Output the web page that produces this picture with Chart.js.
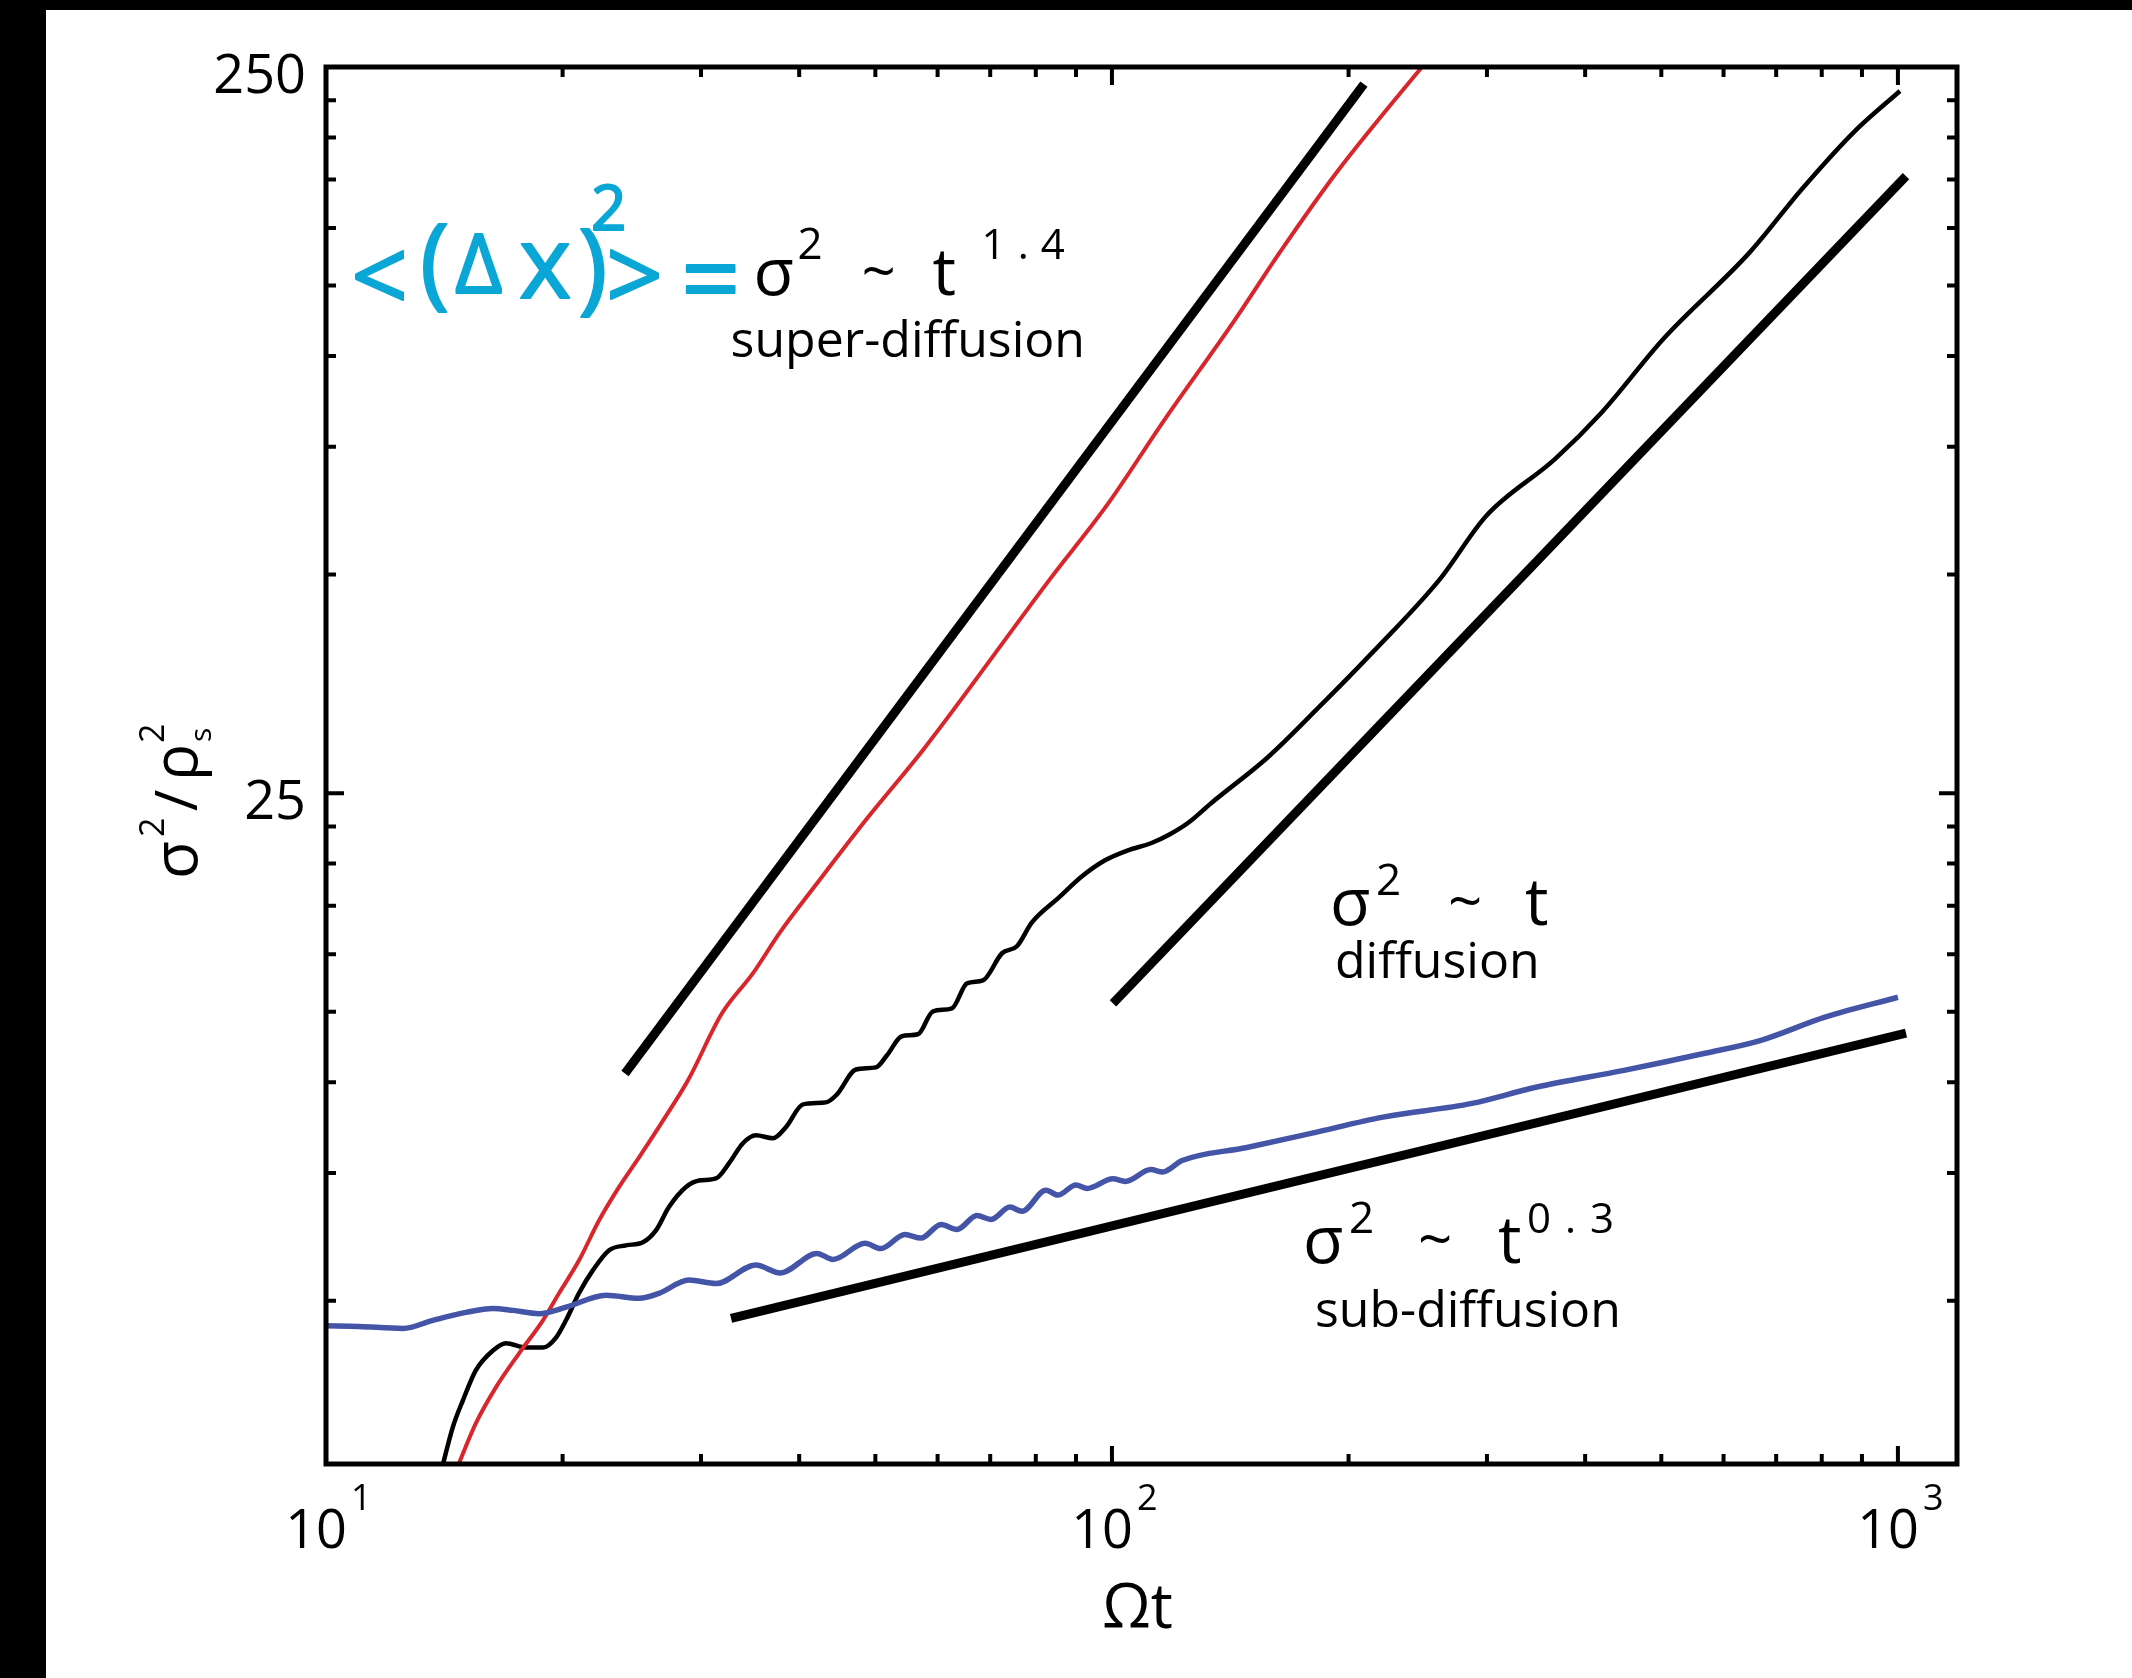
<!DOCTYPE html>
<html>
<head>
<meta charset="utf-8">
<title>sigma^2 vs Omega t</title>
<script src="https://cdn.jsdelivr.net/npm/chart.js"></script>
<style>
    html, body { margin: 0; padding: 0; background: #000; }
    body { width: 2132px; height: 1678px; overflow: hidden; position: relative; }
    .chart-box { position: absolute; left: 46px; top: 10px; width: 2086px; height: 1668px; background: #fff; }
</style>
</head>
<body>
<div class="chart-box"><canvas id="msdChart"></canvas></div>
<script>
    // black simulation curve (Omega t, sigma^2/rho_s^2)
    const blackT = [14.0, 14.5, 14.94, 15.51, 16.31, 16.94, 17.97, 18.88, 19.62, 20.2, 20.98, 21.86, 22.92, 24.08, 25.31,
        26.29, 27.31, 28.71, 29.83, 31.35, 32.56, 33.92, 35.24, 37.04, 38.47, 40.45, 43.26, 44.68, 47.24, 50.09,
        51.73, 54.05, 56.65, 59.2, 62.58, 65.4, 68.54, 72.46, 75.7, 79.1, 85.64, 91.6, 98.0, 104.8, 112.1,
        118.5, 125.3, 133.7, 157.9, 183.9, 213.5, 261.4, 299.1, 366.1, 419.0, 503.9, 648.2, 755.0, 879.0, 1006];
    const blackS = [2.9, 3.35, 3.65, 4.01, 4.27, 4.37, 4.31, 4.31, 4.45, 4.7, 5.12, 5.51, 5.87, 5.96, 6.02,
        6.25, 6.73, 7.17, 7.32, 7.37, 7.73, 8.24, 8.45, 8.37, 8.67, 9.32, 9.38, 9.62, 10.41, 10.48,
        10.89, 11.57, 11.64, 12.52, 12.64, 13.68, 13.81, 15.05, 15.39, 16.6, 17.97, 19.21, 20.21, 20.86, 21.33,
        21.95, 22.8, 24.22, 28.02, 32.94, 38.85, 49.29, 60.17, 72.11, 83.42, 105.8, 139.0, 169.8, 203.4, 231.7];

    // red curve
    const redT = [14.6, 15.51, 16.45, 17.6, 18.88, 19.79, 20.98, 22.25, 23.59, 25.02, 26.85, 28.88, 31.9, 34.94,
        37.81, 41.77, 48.93, 57.46, 83.4, 98.54, 116.8, 143.0, 163.6, 193.3, 261.4];
    const redS = [2.9, 3.39, 3.8, 4.23, 4.7, 5.12, 5.68, 6.45, 7.17, 7.88, 8.86, 10.06, 12.44, 14.13,
        16.08, 18.55, 23.16, 28.65, 49.29, 62.31, 81.86, 111.7, 139.0, 179.2, 268];

    // blue curve
    const blueT = [10, 11.01, 12.53, 13.68, 15.07, 16.31, 17.29, 18.66, 20.2, 22.72, 25.02, 26.53, 28.96, 31.35,
        35.24, 37.81, 42.14, 44.16, 48.5, 50.82, 54.52, 57.15, 60.6, 63.51, 67.33, 70.17, 74.17, 76.83, 82.42,
        85.35, 90.0, 93.0, 100.3, 104.0, 112.1, 116.0, 122.8, 148.5, 179.1, 221.2, 287.1, 346.2, 448.1, 568.2,
        669.6, 807.4, 1000];
    const blueS = [4.62, 4.61, 4.58, 4.7, 4.82, 4.88, 4.85, 4.8, 4.9, 5.09, 5.04, 5.12, 5.34, 5.28,
        5.6, 5.46, 5.81, 5.7, 6.0, 5.9, 6.17, 6.1, 6.37, 6.27, 6.55, 6.47, 6.73, 6.64, 7.1,
        6.99, 7.22, 7.14, 7.36, 7.3, 7.58, 7.52, 7.8, 8.13, 8.5, 8.95, 9.35, 9.84, 10.38, 10.96,
        11.42, 12.29, 13.09];

    // power-law guide lines (end points)
    const superT = [24.01, 209.2];
    const superS = [10.28, 236.8];
    const diffT = [100.3, 1024];
    const diffS = [12.84, 176.9];
    const subT = [32.76, 1024];
    const subS = [4.73, 11.68];

    // axes
    const xMajorTicks = [10, 100, 1000];
    const xTickExponents = ['1', '2', '3'];
    const xMinorTicks = [20, 30, 40, 50, 60, 70, 80, 90, 200, 300, 400, 500, 600, 700, 800, 900];
    const yMajorTicks = [25, 250];
    const yTickLabels = ['25', '250'];
    const yMinorTicks = [5, 7.5, 10, 12.5, 15, 17.5, 20, 22.5, 50, 75, 100, 125, 150, 175, 200, 225];

    const FONT = '"Open Sans", "Noto Sans", sans-serif';

    function pairs(xs, ys) {
        return xs.map((v, i) => ({ x: v, y: ys[i] }));
    }

    function curve(xs, ys, color, width) {
        return {
            data: pairs(xs, ys),
            borderColor: color,
            borderWidth: width,
            pointRadius: 0,
            fill: false,
            cubicInterpolationMode: 'monotone'
        };
    }

    function guide(xs, ys) {
        return {
            data: pairs(xs, ys),
            borderColor: '#000',
            borderWidth: 9,
            pointRadius: 0,
            fill: false,
            tension: 0
        };
    }

    // text labels: anchor in data space, pieces offset in px
    const notes = [
        { t: 35.0, s: 121.3, pieces: [['σ', 0, 0, 66], ['2', 44, -36, 44], ['~', 108, -2, 60], ['t', 179, 0, 66],
            ['1.4', 228, -36, 42, '12px'], ['super-diffusion', -23, 62, 50]] },
        { t: 189.4, s: 16.45, pieces: [['σ', 0, 0, 66], ['2', 46, -30, 44], ['~', 118, -2, 60], ['t', 195, 0, 66],
            ['diffusion', 5, 53, 50]] },
        { t: 175.0, s: 5.63, pieces: [['σ', 0, 0, 66], ['2', 46, -30, 44], ['~', 115, -2, 60], ['t', 195, 0, 66],
            ['0.3', 224, -30, 42, '14px'], ['sub-diffusion', 12, 64, 50]] }
    ];
    const handNote = { t: 10.76, s: 120.1, pieces: [['<', 0, 14, 100], ['(', 69, -2, 100], ['Δ', 104, -5, 82],
        ['x', 168, 0, 100], [')', 227, 3, 100], ['2', 240, -68, 62], ['>', 255, 13, 100], ['=', 330, 18, 104]] };

    function drawPieces(ctx, x0, y0, pieces, color, thicken) {
        pieces.forEach(p => {
            ctx.font = p[3] + 'px ' + FONT;
            ctx.letterSpacing = p[4] || '0px';
            ctx.fillStyle = color;
            ctx.fillText(p[0], x0 + p[1], y0 + p[2]);
            if (thicken) {
                ctx.strokeStyle = color;
                ctx.lineWidth = thicken;
                ctx.lineJoin = 'round';
                ctx.strokeText(p[0], x0 + p[1], y0 + p[2]);
            }
        });
        ctx.letterSpacing = '0px';
    }

    const axisFrame = {
        id: 'axisFrame',
        afterDatasetsDraw(chart) {
            const { ctx, chartArea: a, scales: { x, y } } = chart;
            ctx.save();

            // inward ticks on all four sides
            ctx.strokeStyle = '#000';
            ctx.lineWidth = 4;
            ctx.beginPath();
            const xt = (v, len) => {
                const px = x.getPixelForValue(v);
                ctx.moveTo(px, a.bottom); ctx.lineTo(px, a.bottom - len);
                ctx.moveTo(px, a.top); ctx.lineTo(px, a.top + len);
            };
            const yt = (v, len) => {
                const py = y.getPixelForValue(v);
                ctx.moveTo(a.left, py); ctx.lineTo(a.left + len, py);
                ctx.moveTo(a.right, py); ctx.lineTo(a.right - len, py);
            };
            xMinorTicks.forEach(v => xt(v, 10));
            xMajorTicks.forEach(v => xt(v, 18));
            yMinorTicks.forEach(v => yt(v, 10));
            yMajorTicks.forEach(v => yt(v, 18));
            ctx.stroke();

            ctx.lineWidth = 5;
            ctx.strokeRect(a.left, a.top, a.right - a.left, a.bottom - a.top);

            // tick labels
            ctx.fillStyle = '#000';
            ctx.textBaseline = 'alphabetic';
            ctx.textAlign = 'right';
            ctx.font = '54px ' + FONT;
            yMajorTicks.forEach((v, i) => {
                ctx.fillText(yTickLabels[i], a.left - 20, y.getPixelForValue(v) + 26);
            });
            xMajorTicks.forEach((v, i) => {
                const px = x.getPixelForValue(v);
                ctx.textAlign = 'right';
                ctx.font = '54px ' + FONT;
                ctx.fillText('10', px + 21, a.bottom + 84);
                ctx.textAlign = 'left';
                ctx.font = '36px ' + FONT;
                ctx.fillText(xTickExponents[i], px + 25, a.bottom + 46);
            });

            // axis titles
            ctx.textAlign = 'center';
            ctx.font = '62px ' + FONT;
            ctx.fillText('Ωt', (a.left + a.right) / 2 - 4, a.bottom + 164);

            ctx.save();
            ctx.translate(a.left - 129, a.top + 812);
            ctx.rotate(-Math.PI / 2);
            ctx.textAlign = 'left';
            drawPieces(ctx, 0, 0, [['σ', 0, 0, 62], ['2', 42, -33, 34], ['/', 68, 0, 58], ['ρ', 98, 0, 62],
                ['2', 136, -33, 34], ['s', 137, 14, 30]], '#000');
            ctx.restore();

            // annotations
            ctx.textAlign = 'left';
            notes.forEach(n => {
                drawPieces(ctx, x.getPixelForValue(n.t), y.getPixelForValue(n.s), n.pieces, '#000');
            });
            drawPieces(ctx, x.getPixelForValue(handNote.t), y.getPixelForValue(handNote.s), handNote.pieces, '#0aa6d6', 2);

            ctx.restore();
        }
    };

    new Chart(document.getElementById('msdChart').getContext('2d'), {
        type: 'line',
        data: {
            datasets: [
                guide(superT, superS),
                guide(diffT, diffS),
                guide(subT, subS),
                curve(blueT, blueS, '#4455a8', 5.5),
                curve(redT, redS, '#d7262c', 4),
                curve(blackT, blackS, '#000', 4.5)
            ]
        },
        options: {
            responsive: true,
            maintainAspectRatio: false,
            animation: false,
            layout: { padding: { left: 280, right: 175, top: 57, bottom: 214 } },
            plugins: { legend: { display: false }, tooltip: { enabled: false } },
            scales: {
                x: { type: 'logarithmic', min: 10, max: 1189, display: false, bounds: 'data' },
                y: { type: 'logarithmic', min: 2.98, max: 250, display: false, bounds: 'data' }
            }
        },
        plugins: [axisFrame]
    });
</script>
</body>
</html>
